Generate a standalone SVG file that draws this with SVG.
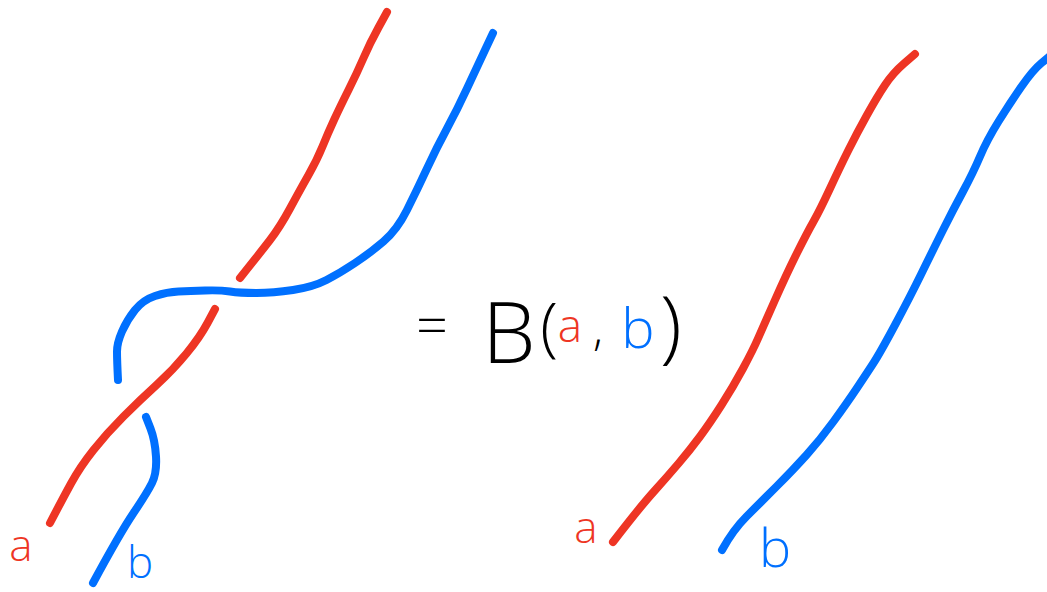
<svg xmlns="http://www.w3.org/2000/svg" width="1047" height="592" viewBox="0 0 1047 592">
<style>
.s{fill:none;stroke-width:8;stroke-linecap:round;stroke-linejoin:round}
.r{stroke:#EE3524}
.b{stroke:#0070FF}
.t{font-family:"Open Sans","DejaVu Sans",sans-serif;font-weight:300;text-anchor:middle}
.tr{fill:#EE3524}
.tb{fill:#0070FF}
.tk{fill:#000000}
</style>
<rect width="1047" height="592" fill="#ffffff"/>
<g id="braid-left">
<path class="s r" d="M387,12 L378.5,27.5 Q370,43 363.5,58 Q357,73 348.5,90 Q340,107 334,120 Q328,133 322.5,146.5 Q317,160 308.5,175 Q300,190 290,208.5 Q280,227 270,240 Q260,253 240,278"/>
<path class="s b" d="M493,33 L485,50 Q477,67 467,88.5 Q457,110 447,128.5 Q437,147 427,168.5 Q417,190 407,210 Q397,230 383.5,241.5 Q370,253 355,263 Q340,273 326.5,280 Q313,287 293,290 Q273,293 256.5,293 Q240,293 230,291.5 Q220,290 205,290.5 Q190,291 178.5,291.5 Q167,292 155,296 Q143,300 135,310 Q127,320 122,331.5 Q117,343 117,351.5 Q117,360 118,380"/>
<path class="s r" d="M215,309 L207.5,323 Q200,337 186.5,353.5 Q173,370 156.5,385 Q140,400 123.5,416.5 Q107,433 93.5,450 Q80,467 71,483.5 Q62,500 50,523"/>
<path class="s b" d="M146,417 L150.5,428.5 Q155,440 156,456.5 Q157,473 152,483 Q147,493 133.5,513 Q120,533 93,583"/>
<text class="t tr" x="21" y="561" font-size="44">a</text>
<text class="t tb" x="140" y="578" font-size="44">b</text>
</g>
<g id="equation">
<text class="t tk" x="432" y="345" font-size="56">=</text>
<text class="t tk" x="509" y="363" font-size="85">B</text>
<text class="t tk" x="549" y="349" font-size="65">(</text>
<text class="t tr" x="570" y="342" font-size="46">a</text>
<text class="t tk" x="598" y="345" font-size="46">,</text>
<text class="t tb" x="638" y="348" font-size="56">b</text>
<text class="t tk" x="671" y="353" font-size="80">)</text>
</g>
<g id="braid-right">
<path class="s r" d="M915,54 L904,63.5 Q893,73 885,85 Q877,97 867,115 Q857,133 848.5,150 Q840,167 830,188.5 Q820,210 813.5,221.5 Q807,233 797,253 Q787,273 775,300 Q763,327 758,338.5 Q753,350 743,368.5 Q733,387 721.5,405 Q710,423 700,436.5 Q690,450 678.5,463.5 Q667,477 653.5,492 Q640,507 613,542"/>
<path class="s b" d="M1050,56 L1041.5,63 Q1033,70 1021.5,86.5 Q1010,103 998.5,121.5 Q987,140 980,156.5 Q973,173 963,191.5 Q953,210 943,230 Q933,250 921.5,273.5 Q910,297 895,325 Q880,353 873.5,363 Q867,373 857,388 Q847,403 833.5,421.5 Q820,440 806.5,455 Q793,470 776.5,486.5 Q760,503 746.5,516.5 Q733,530 722,550"/>
<text class="t tr" x="586" y="543" font-size="44">a</text>
<text class="t tb" x="775" y="567" font-size="54">b</text>
</g>
</svg>
